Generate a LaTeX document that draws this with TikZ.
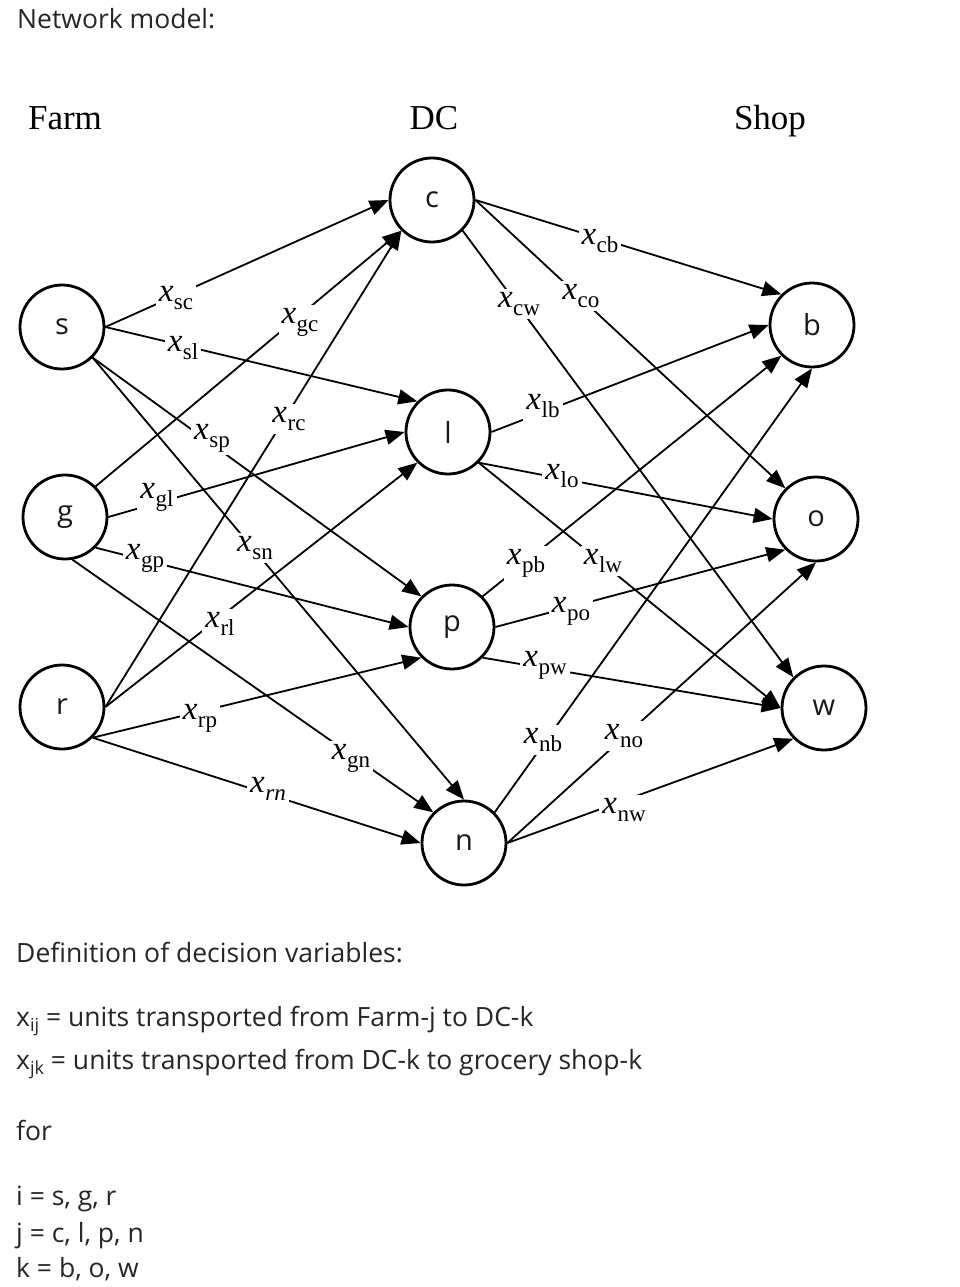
\documentclass[tikz,border=0pt]{standalone}
\usepackage{fontspec}
\setmainfont{Liberation Serif}
\newfontfamily\uifont{Open Sans}
\usetikzlibrary{arrows.meta}
\definecolor{txt}{HTML}{262626}
\newcommand{\xs}[1]{\textit{x}\kern0.5pt\raisebox{-8pt}{\fontsize{23pt}{23pt}\selectfont #1}}
\newcommand{\subx}[1]{x\raisebox{-5pt}{\fontsize{18pt}{18pt}\selectfont #1}}
\begin{document}
\begin{tikzpicture}[x=1pt,y=-1pt,
  state/.style={circle,draw,line width=2.8pt,minimum size=84pt,inner sep=0pt,
    font=\uifont\fontsize{29pt}{29pt}\selectfont,text=black!90},
  edge/.style={line width=1.8pt,-{Triangle[length=19pt,width=15pt]}},
  lbl/.style={fill=white,inner sep=3pt,font=\fontsize{33pt}{33pt}\selectfont},
  head/.style={font=\fontsize{35pt}{35pt}\selectfont,anchor=base,inner sep=0pt},
  body/.style={font=\uifont\fontsize{26.5pt}{26.5pt}\selectfont,text=txt,anchor=base west,inner sep=0pt}]
\fill[white] (0,0) rectangle (960,1287);
\useasboundingbox (0,0) rectangle (960,1287);

% texts
\node[body] (title) at (17,29) {Network model:};
\node[head] (hfarm) at (65,129) {Farm};
\node[head] (hdc) at (434,129) {DC};
\node[head] (hshop) at (770,129) {Shop};

% nodes
\node[state] (s) at (62,327) {s};
\node[state] (g) at (65,517) {g};
\node[state] (r) at (62,707) {r};
\node[state] (c) at (432,200) {c};
\node[state] (l) at (448,432) {l};
\node[state] (p) at (452,627) {p};
\node[state] (n) at (464,843) {n};
\node[state] (b) at (812,325) {b};
\node[state] (o) at (816,519) {o};
\node[state] (w) at (824,708) {w};

% edges farm -> DC
\draw[edge] (s.east) -- (c.west);
\draw[edge] (s.east) -- (l.north west);
\draw[edge] (s.south east) -- (p.north west);
\draw[edge] (s.south east) -- (n.north);
\draw[edge] (g.north east) -- (c.south west);
\draw[edge] (g.east) -- (l.west);
\draw[edge] (g.south east) -- (p.west);
\draw[edge] (g.-80) -- (n.north west);
\draw[edge] (r.east) -- (c.south west);
\draw[edge] (r.east) -- (l.south west);
\draw[edge] (r.south east) -- (p.south west);
\draw[edge] (r.south east) -- (n.west);
% edges DC -> shop
\draw[edge] (c.east) -- (b.north west);
\draw[edge] (c.east) -- (o.north west);
\draw[edge] (c.south east) -- (w.north west);
\draw[edge] (l.east) -- (b.west);
\draw[edge] (l.south east) -- (o.west);
\draw[edge] (l.south east) -- (w.west);
\draw[edge] (p.north east) -- (b.south west);
\draw[edge] (p.east) -- (o.south west);
\draw[edge] (p.south east) -- (w.west);
\draw[edge] (n.north east) -- (b.south);
\draw[edge] (n.east) -- (o.south);
\draw[edge] (n.east) -- (w.south west);

% labels
\node[lbl] (Lsc) at (176,298) {\xs{sc}};
\node[lbl] (Lsl) at (183,348) {\xs{sl}};
\node[lbl] (Lsp) at (212,438) {\xs{sp}};
\node[lbl] (Lsn) at (255,548) {\xs{sn}};
\node[lbl] (Lgc) at (300,322) {\xs{gc}};
\node[lbl] (Lgl) at (157,497) {\xs{gl}};
\node[lbl] (Lgp) at (145,558) {\xs{gp}};
\node[lbl] (Lgn) at (351,758) {\xs{gn}};
\node[lbl] (Lrc) at (289,419) {\xs{rc}};
\node[lbl] (Lrl) at (220,624) {\xs{rl}};
\node[lbl] (Lrp) at (200,718) {\xs{rp}};
\node[lbl] (Lrn) at (268,789) {\xs{\textit{rn}}};
\node[lbl] (Lcb) at (600,241) {\xs{cb}};
\node[lbl] (Lco) at (581,296) {\xs{co}};
\node[lbl] (Lcw) at (519,304) {\xs{cw}};
\node[lbl] (Llb) at (543,406) {\xs{lb}};
\node[lbl] (Llo) at (562,476) {\xs{lo}};
\node[lbl] (Llw) at (603,561) {\xs{lw}};
\node[lbl] (Lpb) at (526,563) {\xs{pb}};
\node[lbl] (Lpo) at (571,611) {\xs{po}};
\node[lbl] (Lpw) at (545,665) {\xs{pw}};
\node[lbl] (Lnb) at (543,740) {\xs{nb}};
\node[lbl] (Lno) at (624,736) {\xs{no}};
\node[lbl] (Lnw) at (624,810) {\xs{nw}};

% definitions
\node[body] (def) at (16,962) {Definition of decision variables:};
\node[body] (dij) at (16,1026) {\subx{ij} = units transported from Farm-j to DC-k};
\node[body] (djk) at (16,1069) {\subx{jk} = units transported from DC-k to grocery shop-k};
\node[body] (for) at (16,1140) {for};
\node[body] (ii) at (16,1205) {i = s, g, r};
\node[body] (jj) at (16,1242) {j = c, l, p, n};
\node[body] (kk) at (16,1277) {k = b, o, w};
\end{tikzpicture}
\end{document}
